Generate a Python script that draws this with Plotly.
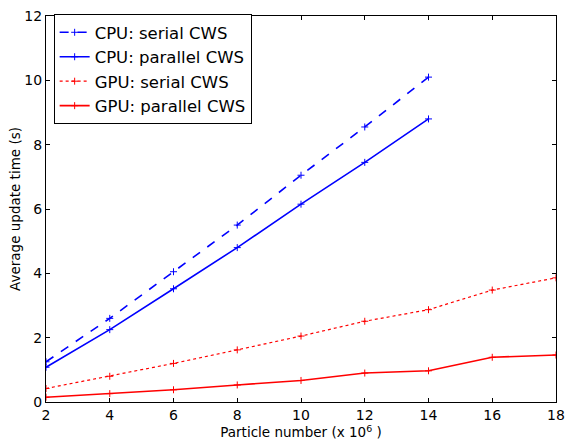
import plotly.graph_objects as go

x_cpu = [2, 4, 6, 8, 10, 12, 14]
x_gpu = [2, 4, 6, 8, 10, 12, 14, 16, 18]
cpu_serial = [1.25, 2.6, 4.05, 5.5, 7.05, 8.55, 10.1]
cpu_parallel = [1.08, 2.25, 3.52, 4.8, 6.15, 7.45, 8.8]
gpu_serial = [0.42, 0.8, 1.2, 1.62, 2.05, 2.51, 2.87, 3.48, 3.86]
gpu_parallel = [0.15, 0.26, 0.38, 0.53, 0.67, 0.9, 0.97, 1.39, 1.46]
x_ticks = [2, 4, 6, 8, 10, 12, 14, 16, 18]
y_ticks = [0, 2, 4, 6, 8, 10, 12]

FONT = "DejaVu Sans"
fig = go.Figure()
series = [
    ("CPU: serial CWS", x_cpu, cpu_serial, "#0000ff", "dash", 1.6),
    ("CPU: parallel CWS", x_cpu, cpu_parallel, "#0000ff", "solid", 1.6),
    ("GPU: serial CWS", x_gpu, gpu_serial, "#ff0000", "dot", 1.2),
    ("GPU: parallel CWS", x_gpu, gpu_parallel, "#ff0000", "solid", 1.6),
]
for name, xs, ys, c, d, w in series:
    fig.add_trace(go.Scatter(
        x=xs, y=ys, name=name, mode="lines+markers",
        line=dict(color=c, width=w, dash=d),
        marker=dict(symbol="cross-thin", size=5, line=dict(color=c, width=1)),
    ))

axis_common = dict(
    showgrid=False, zeroline=False, showline=True, linecolor="black", linewidth=1,
    mirror="ticks", ticks="inside", ticklen=4, tickcolor="black",
    tickfont=dict(family=FONT, size=14, color="black"),
)
fig.update_layout(
    width=573, height=442,
    margin=dict(l=46, r=8, t=8, b=38),
    paper_bgcolor="white", plot_bgcolor="white",
    font=dict(family=FONT, color="black"),
    xaxis=dict(range=[2, 18], tickvals=x_ticks,
               title=dict(text="Particle number (x 10<sup>6</sup> )", font=dict(family=FONT, size=13.5), standoff=2),
               **axis_common),
    yaxis=dict(range=[0, 12], tickvals=y_ticks,
               title=dict(text="Average update time (s)", font=dict(family=FONT, size=13.5), standoff=0),
               **axis_common),
    legend=dict(x=0.015, y=1.005, xanchor="left", yanchor="top",
                bordercolor="black", borderwidth=1, bgcolor="white",
                font=dict(family=FONT, size=16.5), tracegroupgap=0),
    showlegend=True,
)
fig.write_html("out.html")
